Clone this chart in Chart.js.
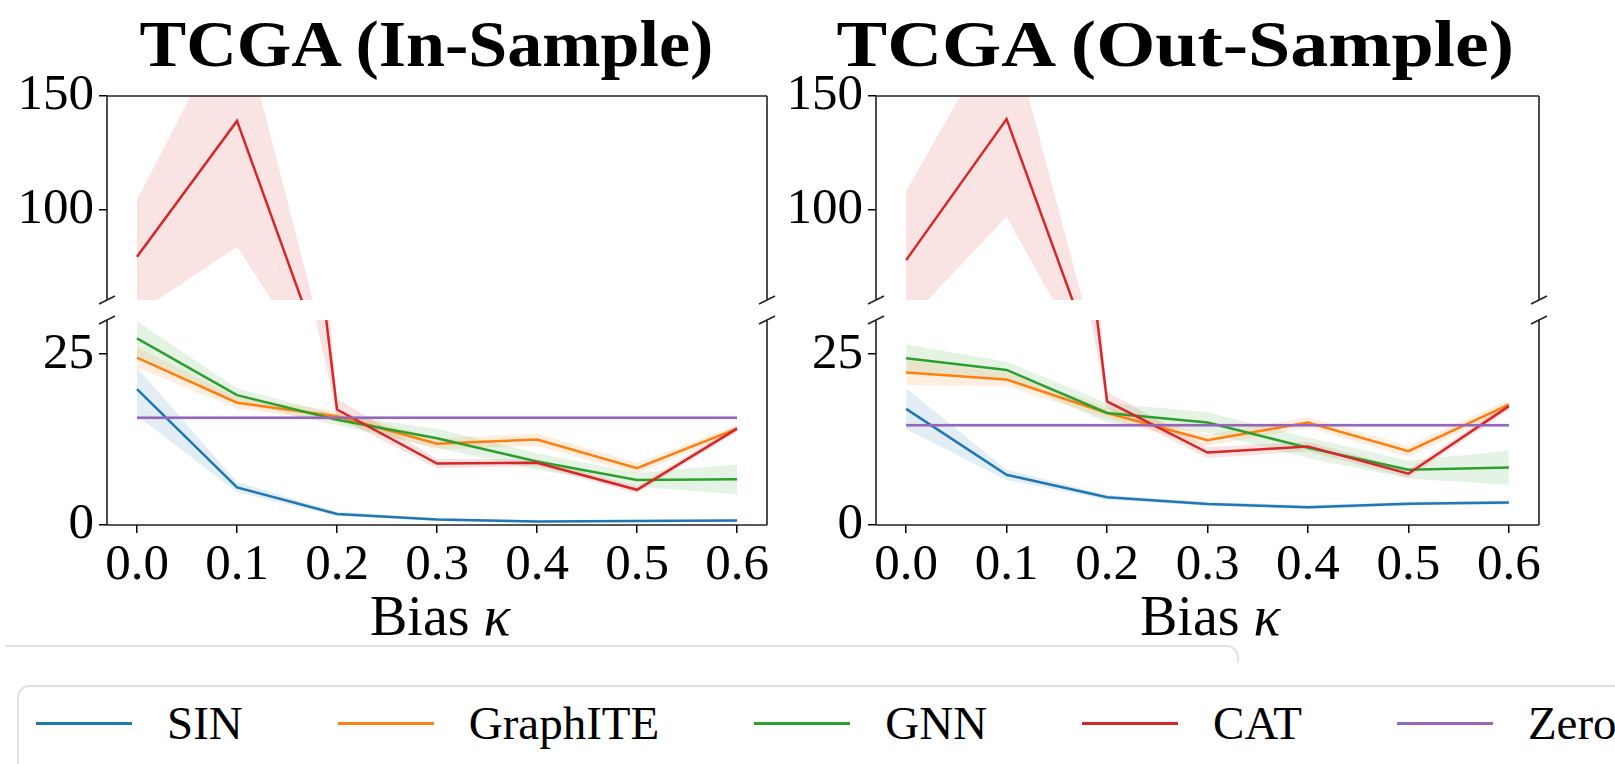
<!DOCTYPE html>
<html>
<head>
<meta charset="utf-8">
<script src="https://cdn.jsdelivr.net/npm/chart.js@4.4.1/dist/chart.umd.min.js"></script>
<style>
  body { margin: 0; background: #fff; }
  #page { position: relative; width: 1615px; height: 764px; overflow: hidden; background: #fff; }
  canvas { position: absolute; }
  .title { position: absolute; top: 11px; font: bold 66px "Liberation Serif", serif; line-height: 1; white-space: nowrap; color: #000; }
  .xlabel { position: absolute; top: 588px; font: 56px "Liberation Serif", serif; line-height: 1; white-space: nowrap; color: #000; }
  .card { position: absolute; left: 5px; top: 645px; width: 1232px; height: 16px; border-top: 2px solid #e3e3e3; border-right: 2px solid #e3e3e3; border-top-right-radius: 12px; }
  #legend { position: absolute; left: 17px; top: 685px; width: 1650px; height: 130px; border: 2px solid #e0e0e0; border-radius: 12px; }
  #legendRow { position: absolute; left: 17px; top: 13px; display: flex; align-items: center; height: 47px; }
  .item { display: flex; align-items: center; margin-right: 95px; }
  .swatch { width: 96px; height: 3px; }
  .item span { margin-left: 35px; font: 47px "Liberation Serif", serif; line-height: 1; white-space: nowrap; }
</style>
</head>
<body>
<div id="page">
  <div class="title" id="t1">TCGA (In-Sample)</div>
  <div class="title" id="t2">TCGA (Out-Sample)</div>
  <canvas id="inUpper" width="800" height="240" style="left:0px;top:70px"></canvas>
  <canvas id="inLower" width="800" height="300" style="left:0px;top:310px"></canvas>
  <canvas id="outUpper" width="835" height="240" style="left:780px;top:70px"></canvas>
  <canvas id="outLower" width="835" height="300" style="left:780px;top:310px"></canvas>
  <div class="xlabel" id="x1">Bias <i>κ</i></div>
  <div class="xlabel" id="x2">Bias <i>κ</i></div>
  <div class="card"></div>
  <div id="legend"><div id="legendRow"></div></div>
</div>
<script>
// x values and tick labels
const kappa = [0.0, 0.1, 0.2, 0.3, 0.4, 0.5, 0.6];
const xTickLabels = ["0.0", "0.1", "0.2", "0.3", "0.4", "0.5", "0.6"];
const upperTicks = [100, 150];
const lowerTicks = [0, 25];
const upperRange = [60, 150];
const lowerRange = [0, 30];

const names = ["SIN", "GraphITE", "GNN", "CAT", "Zero"];
const colors = ["#1f77b4", "#ff7f0e", "#2ca02c", "#d62728", "#9467bd"];

// In-Sample: mean and shaded band (low / high)
const inSIN = [19.9, 5.5, 1.6, 0.8, 0.5, 0.6, 0.65];
const inSINlo = [16.0, 4.8, 1.3, 0.6, 0.3, 0.4, 0.45];
const inSINhi = [23.0, 6.3, 1.9, 1.0, 0.7, 0.8, 0.85];
const inGraphITE = [24.5, 17.9, 15.9, 11.9, 12.5, 8.3, 14.1];
const inGraphITElo = [23.0, 17.1, 15.1, 11.1, 11.6, 7.5, 13.6];
const inGraphITEhi = [26.0, 18.7, 16.7, 12.7, 13.4, 9.1, 14.6];
const inGNN = [27.3, 19.0, 15.4, 12.7, 9.3, 6.6, 6.7];
const inGNNlo = [24.8, 18.0, 14.6, 11.3, 8.1, 5.6, 4.5];
const inGNNhi = [29.8, 20.0, 16.2, 14.1, 10.5, 7.6, 8.9];
const inCAT = [79.1, 139.0, 16.9, 9.0, 9.1, 5.15, 14.1];
const inCATlo = [54, 83.5, 15.8, 8.3, 8.6, 4.6, 13.6];
const inCAThi = [104, 190, 18.5, 9.7, 9.6, 5.7, 14.6];
const inZero = [15.7, 15.7, 15.7, 15.7, 15.7, 15.7, 15.7];
const inZerolo = [15.4, 15.4, 15.4, 15.4, 15.4, 15.4, 15.4];
const inZerohi = [16.0, 16.0, 16.0, 16.0, 16.0, 16.0, 16.0];

// Out-Sample
const outSIN = [17.0, 7.35, 4.07, 3.09, 2.6, 3.1, 3.3];
const outSINlo = [14.0, 6.6, 3.7, 2.8, 2.3, 2.8, 3.0];
const outSINhi = [20.0, 8.1, 4.4, 3.4, 2.9, 3.4, 3.6];
const outGraphITE = [22.3, 21.3, 16.4, 12.4, 15.0, 10.8, 17.6];
const outGraphITElo = [20.5, 20.3, 15.6, 11.6, 14.2, 10.0, 16.9];
const outGraphITEhi = [24.1, 22.3, 17.2, 13.2, 15.8, 11.6, 18.3];
const outGNN = [24.4, 22.7, 16.4, 15.0, 11.3, 8.1, 8.4];
const outGNNlo = [22.4, 21.5, 15.0, 13.5, 9.8, 6.8, 5.9];
const outGNNhi = [26.4, 23.9, 17.8, 16.5, 12.8, 9.4, 10.9];
const outCAT = [77.6, 139.8, 18.1, 10.6, 11.5, 7.5, 17.4];
const outCATlo = [50, 96.7, 17.2, 9.8, 10.8, 6.9, 16.8];
const outCAThi = [108, 186, 19.5, 11.4, 12.2, 8.1, 18.0];
const outZero = [14.6, 14.6, 14.6, 14.6, 14.6, 14.6, 14.6];
const outZerolo = [14.3, 14.3, 14.3, 14.3, 14.3, 14.3, 14.3];
const outZerohi = [14.9, 14.9, 14.9, 14.9, 14.9, 14.9, 14.9];

const inMeans = [inSIN, inGraphITE, inGNN, inCAT, inZero];
const inLows = [inSINlo, inGraphITElo, inGNNlo, inCATlo, inZerolo];
const inHighs = [inSINhi, inGraphITEhi, inGNNhi, inCAThi, inZerohi];
const outMeans = [outSIN, outGraphITE, outGNN, outCAT, outZero];
const outLows = [outSINlo, outGraphITElo, outGNNlo, outCATlo, outZerolo];
const outHighs = [outSINhi, outGraphITEhi, outGNNhi, outCAThi, outZerohi];

const tickFont = { family: "Liberation Serif", size: 51 };

function pts(arr) {
  return arr.map((v, i) => ({ x: kappa[i], y: v }));
}

function fade(hex, a) {
  const n = parseInt(hex.slice(1), 16);
  return `rgba(${(n >> 16) & 255},${(n >> 8) & 255},${n & 255},${a})`;
}

function noPadding(sc) {
  sc.paddingLeft = 0;
  sc.paddingRight = 0;
  sc.paddingTop = 0;
  sc.paddingBottom = 0;
}

// axis spines + the little break marks of the split y axis
const spines = {
  id: "spines",
  afterDraw(chart, args, opts) {
    const { ctx, chartArea: a } = chart;
    ctx.save();
    ctx.strokeStyle = "#222";
    ctx.lineWidth = 1.6;
    ctx.beginPath();
    ctx.moveTo(a.left, a.top);
    ctx.lineTo(a.left, a.bottom);
    ctx.moveTo(a.right, a.top);
    ctx.lineTo(a.right, a.bottom);
    const edge = opts.part === "upper" ? a.top : a.bottom;
    ctx.moveTo(a.left, edge);
    ctx.lineTo(a.right, edge);
    const cut = opts.part === "upper" ? a.bottom : a.top;
    for (const x of [a.left, a.right]) {
      ctx.moveTo(x - 8, cut + 4);
      ctx.lineTo(x + 8, cut - 4);
    }
    ctx.stroke();
    ctx.restore();
  },
};

function makePanel(id, part, means, lows, highs, yWidth, padRight) {
  const datasets = [];
  for (let s = 0; s < names.length; s++) {
    datasets.push({
      data: pts(highs[s]),
      fill: "+1",
      backgroundColor: fade(colors[s], 0.13),
      borderWidth: 0,
      pointRadius: 0,
      order: 20,
    });
    datasets.push({
      data: pts(lows[s]),
      fill: false,
      borderWidth: 0,
      pointRadius: 0,
      order: 20,
    });
  }
  for (let s = 0; s < names.length; s++) {
    datasets.push({
      label: names[s],
      data: pts(means[s]),
      borderColor: colors[s],
      borderWidth: 2.5,
      pointRadius: 0,
      fill: false,
      tension: 0,
      order: names.length - s,
    });
  }

  const upper = part === "upper";
  const range = upper ? upperRange : lowerRange;
  const yTicks = upper ? upperTicks : lowerTicks;

  new Chart(document.getElementById(id), {
    type: "line",
    data: { datasets: datasets },
    plugins: [spines],
    options: {
      responsive: false,
      animation: false,
      devicePixelRatio: 1,
      layout: {
        autoPadding: false,
        padding: upper
          ? { top: 26, right: padRight, bottom: 10, left: 0 }
          : { top: 10, right: padRight, bottom: 0, left: 0 },
      },
      plugins: {
        legend: { display: false },
        tooltip: { enabled: false },
        spines: { part: part },
      },
      scales: {
        x: {
          type: "linear",
          min: -0.03,
          max: 0.63,
          display: !upper,
          afterBuildTicks: (sc) => {
            sc.ticks = kappa.map((v) => ({ value: v }));
          },
          afterFit: (sc) => {
            sc.height = upper ? 0 : 85;
            noPadding(sc);
          },
          ticks: {
            callback: (v, i) => xTickLabels[i],
            font: tickFont,
            color: "#000",
            padding: 2,
            autoSkip: false,
            maxRotation: 0,
          },
          grid: { drawOnChartArea: false, tickLength: 8, color: "#000", lineWidth: 1.5 },
          border: { display: false },
        },
        y: {
          min: range[0],
          max: range[1],
          afterBuildTicks: (sc) => {
            sc.ticks = yTicks.map((v) => ({ value: v }));
          },
          afterFit: (sc) => {
            sc.width = yWidth;
            noPadding(sc);
          },
          ticks: {
            callback: (v, i) => String(yTicks[i]),
            font: tickFont,
            color: "#000",
            padding: 5,
          },
          grid: { drawOnChartArea: false, tickLength: 8, color: "#000", lineWidth: 1.5 },
          border: { display: false },
        },
      },
    },
  });
}

makePanel("inUpper", "upper", inMeans, inLows, inHighs, 107, 33);
makePanel("inLower", "lower", inMeans, inLows, inHighs, 107, 33);
makePanel("outUpper", "upper", outMeans, outLows, outHighs, 96, 76);
makePanel("outLower", "lower", outMeans, outLows, outHighs, 96, 76);

// titles and axis labels: center them and stretch to the reference width
function place(id, centerX, targetWidth) {
  const el = document.getElementById(id);
  const w = el.offsetWidth;
  el.style.left = centerX - w / 2 + "px";
  if (targetWidth) el.style.transform = `scaleX(${targetWidth / w})`;
}
place("t1", 426, 574);
place("t2", 1175, 678);
place("x1", 440);
place("x2", 1210);

// legend
const row = document.getElementById("legendRow");
names.forEach((n, i) => {
  const item = document.createElement("div");
  item.className = "item";
  item.innerHTML = `<div class="swatch" style="background:${colors[i]}"></div><span>${n}</span>`;
  row.appendChild(item);
});
</script>
</body>
</html>
